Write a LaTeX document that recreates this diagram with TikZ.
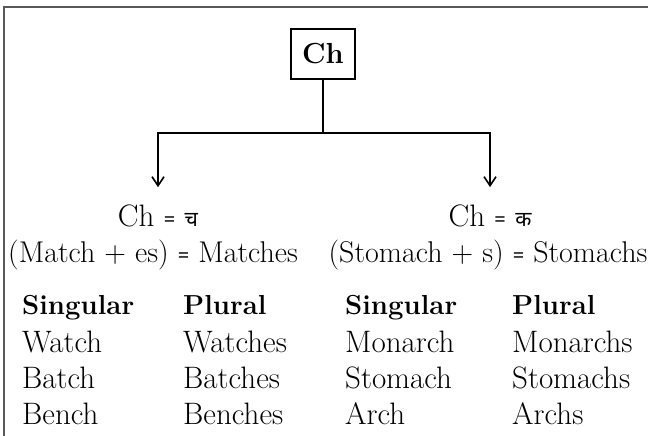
\documentclass[tikz,border=0pt]{standalone}
\usepackage{fontspec}
\usetikzlibrary{arrows.meta,positioning}
\newfontfamily\devfont[Script=Devanagari]{Noto Sans}

\def\chColLeft{158}
\def\chColRight{490}
\def\chSplitY{133}
\def\chRuleY{226}
\def\chExampleY{262}
\def\chHeadY{314}

\newcommand\smalleq{{\devfont\fontsize{20}{20}\selectfont=}}

\tikzset{
  word/.style={anchor=base west, inner sep=0pt, font=\fontsize{31}{36}\selectfont},
  head/.style={word, font=\fontsize{27.5}{32}\selectfont\bfseries},
  rule/.style={anchor=base, inner sep=0pt, font=\fontsize{31}{36}\selectfont},
  example/.style={rule, font=\fontsize{30}{36}\selectfont},
  chbox/.style={draw, line width=1.6pt, minimum width=64pt, minimum height=50pt,
    inner sep=0pt, font=\fontsize{29}{32}\selectfont\bfseries},
  branch/.style={line width=1.6pt},
  downarrow/.style={branch, -{Straight Barb[length=9pt, width=12pt, line width=1.6pt]}, shorten >=17pt},
}

\begin{document}
\begin{tikzpicture}[x=1pt, y=-1pt]
  \useasboundingbox (0,0) rectangle (648,436);
  %% frame
  \draw [line width=1.5pt, black!65] (4,436) -- (4,7) -- (648,7);
  %% root box
  \node [chbox] (ch) at (323,54) {Ch};
  \coordinate (split) at (323,\chSplitY);
  %% the two readings
  \node [rule] (chleft) at (\chColLeft,\chRuleY) {Ch \smalleq\ {\devfont\fontsize{21}{21}\selectfont च}};
  \node [rule] (chright) at (\chColRight,\chRuleY) {Ch \smalleq\ {\devfont\fontsize{21}{21}\selectfont क}};
  \draw [branch] (ch.south) -- (split);
  \draw [downarrow] (split) -| (chleft.north);
  \draw [downarrow] (split) -| (chright.north);
  %% examples
  \node [example] (exleft) at (153,\chExampleY) {(Match + es) \smalleq\ Matches};
  \node [example] (exright) at (488,\chExampleY) {(Stomach + s) \smalleq\ Stomachs};
  %% word table
  \foreach \colx/\colname/\head/\wa/\wb/\wc in {
      22/ls/Singular/Watch/Batch/Bench,
      183/lp/Plural/Watches/Batches/Benches,
      345/rs/Singular/Monarch/Stomach/Arch,
      512/rp/Plural/Monarchs/Stomachs/Archs} {
    \node [head] (\colname-head) at (\colx,\chHeadY) {\head};
    \node [word] (\colname-1) at (\colx,352) {\wa};
    \node [word] (\colname-2) at (\colx,388) {\wb};
    \node [word] (\colname-3) at (\colx,424) {\wc};
  }
\end{tikzpicture}
\end{document}
